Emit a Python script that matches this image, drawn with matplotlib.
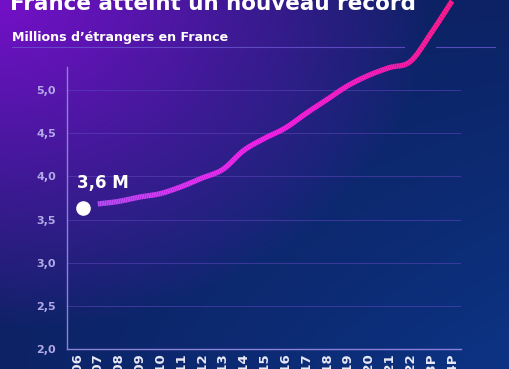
import numpy as np
import matplotlib
matplotlib.use("Agg")
import matplotlib.pyplot as plt
from matplotlib.collections import LineCollection
from matplotlib.colors import LinearSegmentedColormap

# data
years = ["2006", "2007", "2008", "2009", "2010", "2011", "2012", "2013", "2014",
         "2015", "2016", "2017", "2018", "2019", "2020", "2021", "2022",
         "2023P", "2024P"]
start_value = 3.63
line_values = [3.68, 3.71, 3.76, 3.80, 3.88, 3.98, 4.08, 4.30, 4.44, 4.56,
               4.73, 4.89, 5.05, 5.17, 5.26, 5.33, 5.66, 6.03]   # 2007 -> 2024P
yticks = [2.0, 2.5, 3.0, 3.5, 4.0, 4.5, 5.0]

W, H = 510, 369
FONT = "DejaVu Sans"


def px(x, y):
    # pixel (from top-left) -> figure fraction
    return x / W, 1 - y / H


def catmull(xs, ys, n=12):
    # smooth curve through the points
    xs = np.asarray(xs, float)
    ys = np.asarray(ys, float)
    px_ = np.concatenate([[2 * xs[0] - xs[1]], xs, [2 * xs[-1] - xs[-2]]])
    py_ = np.concatenate([[2 * ys[0] - ys[1]], ys, [2 * ys[-1] - ys[-2]]])
    ox, oy = [], []
    for i in range(1, len(px_) - 2):
        t = np.linspace(0, 1, n, endpoint=False)
        for a, out in ((px_, ox), (py_, oy)):
            p0, p1, p2, p3 = a[i - 1], a[i], a[i + 1], a[i + 2]
            out.extend(0.5 * (2 * p1 + (-p0 + p2) * t + (2 * p0 - 5 * p1 + 4 * p2 - p3) * t ** 2
                              + (-p0 + 3 * p1 - 3 * p2 + p3) * t ** 3))
    ox.append(xs[-1])
    oy.append(ys[-1])
    return np.array(ox), np.array(oy)


fig = plt.figure(figsize=(W / 100, H / 100), dpi=100)

# background gradient: purple glow top-left, navy elsewhere
gx, gy = np.meshgrid(np.arange(W), np.arange(H))
s = np.clip(1 - np.sqrt((gx / 430.0) ** 2 + (gy / 330.0) ** 2), 0, 1) ** 0.9
purple = np.array([116, 16, 200]) / 255
navy = np.array([12, 34, 100]) / 255
blue = np.array([12, 52, 132]) / 255
b = np.clip((gx / W) * (gy / H), 0, 1)[..., None]
base = navy + (blue - navy) * b
img = base + (purple - base) * s[..., None]
bg = fig.add_axes([0, 0, 1, 1])
bg.imshow(np.clip(img, 0, 1), aspect="auto", extent=[0, 1, 0, 1])
bg.axis("off")

# header
fig.text(*px(10, 9.5), "France atteint un nouveau record", color="white",
         fontsize=15.5, fontweight="bold", family=FONT, va="baseline")
fig.text(*px(12, 41), "Millions d\u2019\u00e9trangers en France", color="white",
         fontsize=9.1, fontweight="bold", family=FONT, va="baseline")
for x0, x1 in ((12, 404), (436, 495)):
    fig.add_artist(plt.Line2D([px(x0, 0)[0], px(x1, 0)[0]], [px(0, 47)[1]] * 2,
                              color="#6a55d0", lw=0.8, alpha=0.8))

# main axes
l, t = px(67, 67)
r, bt = px(461, 349)
ax = fig.add_axes([l, bt, r - l, t - bt])
ax.set_facecolor("none")
ax.set_xlim(-0.48, 18.43)
ax.set_ylim(2.0, 2.0 + (349 - 67) / 86.33)

for sp in ("top", "right"):
    ax.spines[sp].set_visible(False)
for sp in ("left", "bottom"):
    ax.spines[sp].set_color("#8c80d8")
    ax.spines[sp].set_linewidth(1.0)

ax.set_yticks(yticks)
ax.set_yticklabels([f"{v:.1f}".replace(".", ",") for v in yticks],
                   color="#b2aae6", fontsize=8, fontweight="bold", family=FONT)
ax.set_xticks(range(len(years)))
ax.set_xticklabels(years, rotation=90, color="#e8e8f6", fontsize=9.5,
                   fontweight="bold", family=FONT)
ax.tick_params(axis="both", length=0)
ax.tick_params(axis="y", pad=8)
ax.tick_params(axis="x", pad=3)
ax.grid(axis="y", color="#5a44b8", lw=0.7, alpha=0.6)
ax.set_axisbelow(True)

# gradient line
lx = np.arange(1, len(years))
sx, sy = catmull(lx, line_values)
pts = np.column_stack([sx, sy]).reshape(-1, 1, 2)
segs = np.concatenate([pts[:-1], pts[1:]], axis=1)
cmap = LinearSegmentedColormap.from_list(
    "lc", ["#b84cf4", "#e632f6", "#ff1ee8", "#ff1ec0", "#ff1a8c"])
lc = LineCollection(segs, cmap=cmap, linewidth=3.8, capstyle="butt",
                    joinstyle="round", clip_on=False, zorder=3)
lc.set_array(np.linspace(0, 1, len(segs)))
ax.add_collection(lc)

# start point
ax.plot([0.3], [start_value], "o", color="white", markersize=9.5, zorder=4,
        clip_on=False)
ax.text(0.0, start_value + 0.23, "3,6 M", color="white", fontsize=12,
        fontweight="bold", family=FONT, va="baseline", ha="left")

fig.savefig("out.png", dpi=100)
